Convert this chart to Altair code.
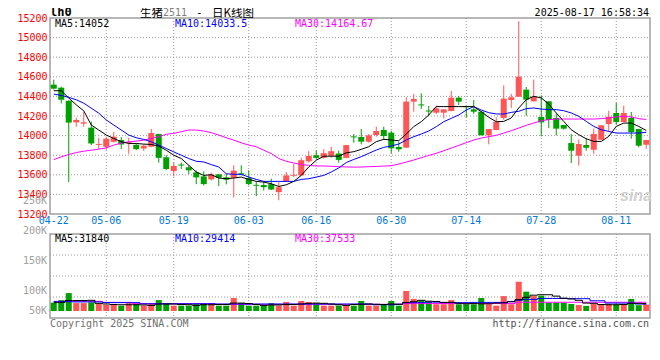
import altair as alt
import pandas as pd

MONO = "DejaVu Sans Mono"
CJK = "Noto Sans CJK SC"
RED = "#FF5555"
GREEN = "#00A000"
GRID = "#999999"

dates = ["04-22","04-23","04-24","04-25","04-28","04-29","04-30",
         "05-06","05-07","05-08","05-09","05-12","05-13","05-14","05-15","05-16",
         "05-19","05-20","05-21","05-22","05-23","05-26","05-27","05-28","05-29","05-30",
         "06-03","06-04","06-05","06-06","06-09","06-10","06-11","06-12","06-13",
         "06-16","06-17","06-18","06-19","06-20","06-23","06-24","06-25","06-26","06-27",
         "06-30","07-01","07-02","07-03","07-04","07-07","07-08","07-09","07-10","07-11",
         "07-14","07-15","07-16","07-17","07-18","07-21","07-22","07-23","07-24","07-25",
         "07-28","07-29","07-30","07-31","08-01","08-04","08-05","08-06","08-07","08-08",
         "08-11","08-12","08-13","08-14","08-15"]

opens = [14520,14489,14355,14135,14122,14081,13905,13886,13937,13954,
         13927,13906,13869,13886,14016,13779,13639,13705,13677,13625,
         13584,13553,13605,13574,13570,13615,13567,13498,13495,13505,
         13423,13533,13590,13594,13738,13800,13773,13793,13817,13773,
         13992,13986,13938,14006,14057,14030,13884,13877,14347,14318,
         14256,14234,14234,14251,14387,14300,14268,14244,14003,14057,
         14180,14363,14397,14469,14350,14190,14350,14180,14108,13924,
         13795,13904,13856,13958,14118,14231,14139,14180,14067,13907]
highs = [14571,14499,14360,14184,14239,14143,13978,13989,14037,13985,
         13978,13920,13910,14067,14020,13800,13725,13725,13697,13646,
         13635,13622,13608,13608,13697,13697,13646,13533,13533,13560,
         13526,13629,13714,13773,13841,13848,13862,13886,13848,13906,
         14016,14067,14016,14091,14091,14050,13938,14391,14425,14432,
         14302,14306,14268,14456,14405,14306,14364,14248,14067,14187,
         14513,14425,15167,14496,14571,14411,14352,14224,14110,14016,
         13958,13975,14071,14108,14254,14333,14306,14241,14070,13958]
lows = [14470,14328,13526,14091,14091,13903,13862,13855,13930,13862,
        13814,13851,13845,13880,13725,13646,13584,13659,13608,13505,
        13491,13543,13485,13502,13368,13594,13491,13382,13440,13445,
        13341,13528,13577,13590,13725,13760,13766,13773,13725,13770,
        13928,13911,13928,13989,13955,13819,13836,13875,14244,14272,
        14200,14221,14176,14248,14313,14187,14221,14003,13911,14055,
        14162,14282,14395,14203,14348,13992,14077,14002,14060,13720,
        13693,13846,13815,13955,14043,14111,14137,13968,13880,13866]
closes = [14479,14366,14133,14160,14136,13920,13915,13968,13989,13910,
          13937,13862,13896,14026,13773,13659,13690,13695,13646,13574,
          13505,13605,13570,13550,13642,13601,13505,13488,13474,13450,
          13474,13594,13600,13749,13793,13773,13821,13841,13752,13903,
          13982,13938,14003,14047,13996,13870,13860,14347,14374,14308,
          14246,14278,14268,14387,14347,14290,14244,14003,14067,14142,
          14377,14391,14602,14367,14397,14135,14159,14071,14071,13846,
          13914,13876,14016,14105,14193,14139,14231,14036,13897,13955]

ma5 = [14458,14458,14383,14314,14253,14108,14057,14006,13971,13937,
       13920,13920,13913,13910,13893,13851,13800,13766,13697,13629,
       13594,13601,13567,13560,13567,13577,13553,13533,13526,13509,
       13481,13498,13533,13594,13680,13749,13790,13790,13790,13824,
       13836,13860,13887,13938,13962,13955,13948,14016,14091,14142,
       14210,14296,14296,14296,14296,14296,14296,14244,14187,14142,
       14145,14180,14282,14367,14401,14384,14323,14231,14145,14060,
       14009,13968,13941,13941,13992,14094,14128,14128,14094,14052]
ma10 = [14424,14410,14390,14366,14331,14280,14229,14160,14108,14057,
        14006,13978,13961,13937,13903,13869,13834,13800,13766,13738,
        13731,13704,13680,13611,13605,13605,13577,13553,13533,13533,
        13533,13533,13533,13553,13560,13577,13594,13629,13670,13725,
        13757,13785,13819,13853,13880,13894,13914,13955,13989,14016,
        14047,14091,14142,14176,14210,14261,14296,14261,14234,14221,
        14220,14237,14248,14275,14282,14271,14265,14265,14254,14231,
        14197,14145,14094,14060,14043,14026,14026,14026,14026,14033.5]
ma30 = [13755,13783,13807,13827,13841,13851,13862,13875,13903,13923,
        13937,13944,13954,13971,13989,14013,14023,14040,14057,14057,
        14047,14030,14006,13978,13954,13927,13903,13886,13851,13817,
        13766,13738,13721,13704,13697,13690,13690,13687,13683,13680,
        13679,13679,13683,13685,13689,13693,13710,13730,13751,13774,
        13798,13819,13846,13873,13900,13928,13955,13975,13989,14003,
        14026,14050,14077,14105,14128,14152,14163,14169,14169,14169,
        14169,14169,14169,14173,14180,14190,14197,14190,14173,14164.67]

volumes = [36000,47000,77000,34000,34000,37000,32000,26000,26000,23000,
           34000,29000,23000,32000,47000,34000,23000,23000,23000,32000,
           34000,34000,23000,23000,56000,34000,23000,23000,23000,34000,
           23000,39000,23000,43000,39000,34000,23000,23000,23000,23000,
           23000,43000,23000,23000,29000,43000,23000,86000,52000,45000,
           40000,29000,29000,47000,29000,29000,29000,56000,29000,23000,
           64000,29000,126000,83000,64000,66000,36000,36000,36000,30000,
           26000,22000,30000,30000,30000,28000,30000,52000,25000,28000]
vol_ma5 = [36000,37000,45000,45000,45000,46000,33000,30000,28000,27000,
           27000,27000,26000,24000,30000,30000,30000,28000,27000,24000,
           27000,27000,28000,28000,34000,34000,32000,28000,24000,26000,
           26000,28000,28000,30000,33000,34000,33000,30000,27000,24000,
           28000,29000,30000,29000,28000,30000,29000,36000,40000,46000,
           42000,41000,37000,37000,33000,31000,32000,31000,31000,34000,
           35000,40000,49000,59000,68000,70000,70000,64000,55000,52000,
           46000,34000,33000,28000,27000,27000,28000,33000,33000,31840]
vol_ma10 = [40000,40000,40000,39000,39000,39000,39000,36000,36000,36000,
            36000,36000,31000,31000,31000,31000,31000,31000,31000,31000,
            31000,31000,30000,30000,30000,30000,30000,30000,30000,30000,
            30000,30000,30000,30000,30000,30000,30000,30000,30000,30000,
            30000,30000,30000,27000,27000,27000,29000,36000,36000,36000,
            38000,38000,36000,36000,36000,36000,37000,37000,37000,37000,
            37000,40000,46000,50000,50000,54000,54000,54000,54000,53000,
            53000,53000,44000,44000,34000,34000,34000,34000,30000,29414]
vol_ma30 = [41500,41500,41500,41500,41500,41500,41500,37000,37000,37000,
            37000,31500,31500,31500,31500,31500,31500,31500,31500,31500,
            31500,31500,28700,28700,28700,28700,28700,28700,28700,28700,
            28700,28700,28700,28700,28700,28700,28700,28700,28700,28700,
            28700,28700,28700,28700,28700,28700,28700,32000,32000,32000,
            32000,32000,32000,32000,32000,32000,32000,32000,32000,32000,
            32000,32000,37500,37500,37500,37500,37500,37500,37500,37500,
            37500,37500,37500,37500,37500,37500,37500,37500,37500,37533]

price_ticks = [13200, 13400, 13600, 13800, 14000, 14200, 14400, 14600, 14800, 15000, 15200]
x_label_dates = ["04-22", "05-06", "05-19", "06-03", "06-16", "06-30", "07-14", "07-28", "08-11"]
vol_tick_labels = ["50K", "100K", "150K", "200K", "250K"]
vol_tick_at = [2000, 88000, 217000, 346000, 475000]

df = pd.DataFrame({
    "date": dates, "open": opens, "high": highs, "low": lows, "close": closes,
    "ma5": ma5, "ma10": ma10, "ma30": ma30,
    "vol": volumes, "vma5": vol_ma5, "vma10": vol_ma10, "vma30": vol_ma30,
})
df["dir"] = ["up" if c >= o else "down" for o, c in zip(opens, closes)]
df["zero"] = 0

W, H = 600, 300
P_TOP, P_BOT = 15200, 13200
price_scale = alt.Scale(domain=[12139, 15200], nice=False, zero=False)
VOL_PX = 4300
vol_scale = alt.Scale(domain=[-7 * VOL_PX, 293 * VOL_PX], nice=False, zero=False)
V_TOP, V_BOT = 77 * VOL_PX, -7 * VOL_PX
x_scale = alt.Scale(type="band", domain=dates, paddingInner=0, paddingOuter=0)


def X(field="date"):
    return alt.X(f"{field}:O", scale=x_scale, axis=None)


def YP(field):
    return alt.Y(f"{field}:Q", scale=price_scale, axis=None)


def YV(field):
    return alt.Y(f"{field}:Q", scale=vol_scale, axis=None)


color = alt.Color("dir:N", scale=alt.Scale(domain=["up", "down"], range=[RED, GREEN]), legend=None)


def label(text, x, y, color="#000000", size=10, align="left", font=MONO, weight="normal",
          style="normal", baseline="middle"):
    return alt.Chart(pd.DataFrame({"t": [text]})).mark_text(
        align=align, baseline=baseline, color=color, fontSize=size, font=font,
        fontWeight=weight, fontStyle=style
    ).encode(text="t:N", x=alt.value(x), y=alt.value(y))


layers = []

# panel frames
layers.append(alt.Chart(pd.DataFrame({"top": [P_TOP], "bot": [P_BOT]})).mark_rect(
    fillOpacity=0, stroke="#A0A0A0", strokeWidth=1.5
).encode(x=alt.value(0), x2=alt.value(W), y=YP("top"), y2="bot:Q"))
layers.append(alt.Chart(pd.DataFrame({"top": [V_TOP], "bot": [V_BOT]})).mark_rect(
    fillOpacity=0, stroke="#A0A0A0", strokeWidth=1.5
).encode(x=alt.value(0), x2=alt.value(W), y=YV("top"), y2="bot:Q"))

# price grid
layers.append(alt.Chart(pd.DataFrame({"p": price_ticks[1:-1]})).mark_rule(
    color=GRID, strokeDash=[1, 2], strokeWidth=1
).encode(y=YP("p"), x=alt.value(0), x2=alt.value(W)))
layers.append(alt.Chart(pd.DataFrame({"date": x_label_dates[1:], "top": P_TOP, "bot": P_BOT})).mark_rule(
    color=GRID, strokeDash=[1, 2], strokeWidth=1
).encode(x=X(), y=YP("top"), y2="bot:Q"))

# volume grid
vol_grid = [V_BOT + (V_TOP - V_BOT) * q / 4 for q in (1, 2, 3)]
layers.append(alt.Chart(pd.DataFrame({"v": vol_grid})).mark_rule(
    color=GRID, strokeDash=[1, 2], strokeWidth=1
).encode(y=YV("v"), x=alt.value(0), x2=alt.value(W)))
layers.append(alt.Chart(pd.DataFrame({"date": x_label_dates[1:], "top": V_TOP, "bot": V_BOT})).mark_rule(
    color=GRID, strokeDash=[1, 2], strokeWidth=1
).encode(x=X(), y=YV("top"), y2="bot:Q"))

# candles
layers.append(alt.Chart(df).mark_rule(strokeWidth=1).encode(
    x=X(), y=YP("low"), y2="high:Q", color=color))
price_axis = alt.Axis(values=price_ticks, orient="left", title=None, domain=False, ticks=False, grid=False,
                      format="d", labelColor="#FF0000", labelFont=MONO, labelFontSize=10, labelPadding=3,
                      labelFlush=False, labelOverlap=False)
layers.append(alt.Chart(df).mark_bar(size=6).encode(
    x=X(), y=alt.Y("open:Q", scale=price_scale, axis=price_axis), y2="close:Q", color=color))

# price MAs
for col, c in (("ma30", "#FF00FF"), ("ma10", "#0000FF"), ("ma5", "#000000")):
    layers.append(alt.Chart(df).mark_line(color=c, strokeWidth=1).encode(x=X(), y=YP(col)))

# volume bars and MAs
layers.append(alt.Chart(df).mark_bar(size=6).encode(x=X(), y=YV("vol"), y2="zero:Q", color=color))
for col, c in (("vma30", "#FF00FF"), ("vma10", "#0000FF"), ("vma5", "#000000")):
    layers.append(alt.Chart(df).mark_line(color=c, strokeWidth=1, interpolate="step").encode(
        x=X(), y=YV(col)))

# x labels between panels
layers.append(alt.Chart(pd.DataFrame({"date": x_label_dates, "lab": x_label_dates, "y": 13130})).mark_text(
    color="#0078D7", font=MONO, fontSize=10, baseline="middle"
).encode(x=X(), y=YP("y"), text="lab:N"))

# volume labels
layers.append(alt.Chart(pd.DataFrame({"lab": vol_tick_labels, "v": vol_tick_at})).mark_text(
    color="#A0A0A0", font=MONO, fontSize=10, align="right", baseline="middle"
).encode(x=alt.value(-3), y=YV("v"), text="lab:N"))

# texts
layers += [
    label("lh0", 0, -2, size=12, weight="bold", baseline="alphabetic"),
    label("生猪", 90, -1.5, size=11.5, font=CJK, baseline="alphabetic"),
    label("2511", 113, -2, color="#808080", size=10, baseline="alphabetic"),
    label("-", 146, -2, size=11, baseline="alphabetic"),
    label("日K线图", 162, -1.5, size=11.5, font=CJK, baseline="alphabetic"),
    label("2025-08-17 16:58:34", 599, -2.5, size=10, align="right", baseline="alphabetic"),
    label("MA5:14052", 5, 5.5),
    label("MA10:14033.5", 125, 5.5, color="#0000FF"),
    label("MA30:14164.67", 245, 5.5, color="#FF00FF"),
    label("MA5:31840", 5, 220.7),
    label("MA10:29414", 125, 220.7, color="#0000FF"),
    label("MA30:37533", 245, 220.7, color="#FF00FF"),
    label("Copyright 2025 SINA.COM", 0, 305.5, color="#707070"),
    label("http://finance.sina.com.cn", 599, 305.5, color="#505050", align="right"),
    label("sina", 586, 178, color="#D0D0D0", size=16, font="Liberation Sans", weight="bold", style="italic", align="center"),
]

chart = alt.layer(*layers).resolve_scale(y="independent").properties(
    width=W, height=H,
    padding={"left": 42, "top": 10, "right": 2, "bottom": 30},
    autosize=alt.AutoSizeParams(type="none"),
).configure_view(strokeWidth=0)

chart.save("out.html", embed_options={"renderer": "svg", "actions": False})
